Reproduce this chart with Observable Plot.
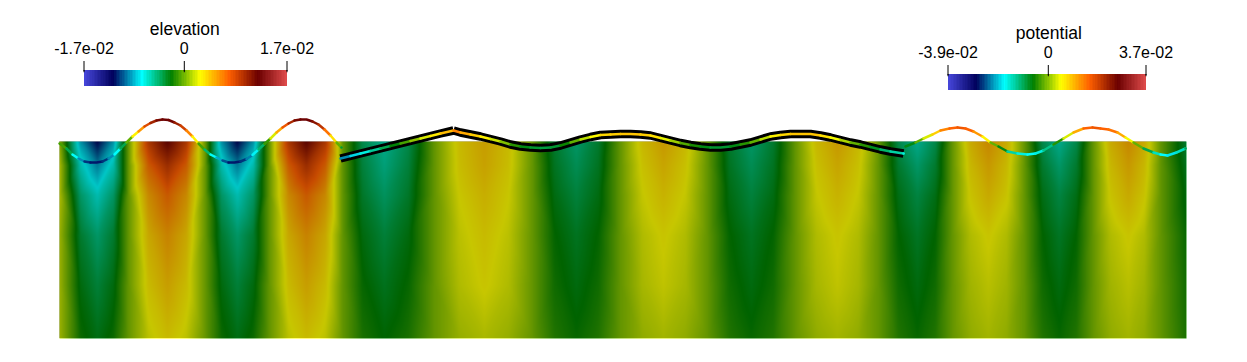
<!DOCTYPE html>
<html>
<head>
<meta charset="utf-8">
<script src="https://cdn.jsdelivr.net/npm/d3@7"></script>
<script src="https://cdn.jsdelivr.net/npm/@observablehq/plot@0.6"></script>
<style>
html,body{margin:0;padding:0;background:#fff;}
#chart{position:relative;width:1247px;height:362px;overflow:hidden;font-family:"Liberation Sans",Arial,sans-serif;}
#chart svg{position:absolute;background:transparent;}
</style>
</head>
<body>
<div id="chart"></div>
<script>
// Colour map stops (position in the map, colour)
const rampStops = [0, 0.143, 0.285, 0.429, 0.571, 0.714, 0.857, 1];
const rampColors = ["rgb(71,71,219)", "rgb(0,0,91)", "rgb(0,255,255)", "rgb(0,127,0)", "rgb(255,255,0)", "rgb(255,96,0)", "rgb(107,0,0)", "rgb(224,76,76)"];

// Legends
const elevationRange = [-0.0168, 0.0172];
const elevationTicks = [-0.0168, 0, 0.0172];
const elevationLabels = ["-1.7e-02", "0", "1.7e-02"];
const potentialRange = [-0.0385, 0.0375];
const potentialTicks = [-0.0385, 0, 0.0375];
const potentialLabels = ["-3.9e-02", "0", "3.7e-02"];
const potentialMapRange = [-0.038, 0.038];

// Potential field, in 1e-3, read at these columns and depths
const fieldX = [59,80,97,113,128,148,167,186,205,221,237,253,269,288,306,325,342,362,384,408,434,459,484,508,532,554,576,598,620,642,663,685,707,729,751,773,795,816,837,858,878,898,917,935,952,970,988,1006,1024,1042,1059,1076,1093,1110,1128,1144,1160,1186];
const fieldDepth = [0, -24, -54, -94, -144, -197];
const potentialD0 = [2,-19.4,-27,-19.4,0,19.2,26.6,19.2,0,-19.4,-27,-19.4,0,19.2,26.6,19.2,0,-9.4,-13,-9.4,0,6.6,9.1,6.6,0,-7.9,-11,-7.9,0,6.8,9.5,6.8,0,-7.9,-11,-7.9,0,6.8,9.5,6.8,0,-9.4,-13,-9.4,0,7.9,11,7.9,0,-9.4,-13,-9.4,0,7.9,11,7.9,0,-8];
const potentialD1 = [4,-14.8,-20.5,-14.8,0,14.8,20.5,14.8,0,-14.8,-20.5,-14.8,0,14.8,20.5,14.8,0,-8.6,-12,-8.6,0,6.3,8.7,6.3,0,-7.2,-10,-7.2,0,6,8.4,6,0,-7.2,-10,-7.2,0,6,8.4,6,0,-7.9,-11,-7.9,0,6.8,9.5,6.8,0,-7.9,-11,-7.9,0,6.8,9.5,6.8,0,-7];
const potentialD2 = [4,-10.8,-15,-10.8,0,10.8,15,10.8,0,-10.8,-15,-10.8,0,10.8,15,10.8,0,-7.6,-10.5,-7.6,0,5.5,7.6,5.5,0,-6.3,-8.7,-6.3,0,5.2,7.2,5.2,0,-6.3,-8.7,-6.3,0,5.2,7.2,5.2,0,-6.5,-9,-6.5,0,5.8,8,5.8,0,-6.5,-9,-6.5,0,5.8,8,5.8,0,-6];
const potentialD3 = [3,-7.9,-11,-7.9,0,8.2,11.4,8.2,0,-7.9,-11,-7.9,0,8.2,11.4,8.2,0,-6.1,-8.5,-6.1,0,4.7,6.5,4.7,0,-5.2,-7.2,-5.2,0,4.1,5.7,4.1,0,-5.2,-7.2,-5.2,0,4.1,5.7,4.1,0,-5.3,-7.4,-5.3,0,4.1,5.7,4.1,0,-5.3,-7.4,-5.3,0,4.1,5.7,4.1,0,-5];
const potentialD4 = [3,-6.1,-8.5,-6.1,0,6.5,9,6.5,0,-6.1,-8.5,-6.1,0,6.5,9,6.5,0,-5,-7,-5,0,4.1,5.7,4.1,0,-4.5,-6.2,-4.5,0,3.6,5,3.6,0,-4.5,-6.2,-4.5,0,3.6,5,3.6,0,-4.5,-6.2,-4.5,0,3.3,4.6,3.3,0,-4.5,-6.2,-4.5,0,3.3,4.6,3.3,0,-4.5];
const potentialD5 = [3,-4.7,-6.5,-4.7,0,4.7,6.5,4.7,0,-4.7,-6.5,-4.7,0,4.7,6.5,4.7,0,-4,-5.5,-4,0,2.7,3.8,2.7,0,-3.6,-5,-3.6,0,2.4,3.4,2.4,0,-3.6,-5,-3.6,0,2.4,3.4,2.4,0,-3.6,-5,-3.6,0,2.4,3.4,2.4,0,-3.6,-5,-3.6,0,2.4,3.4,2.4,0,-4];
const potentialByDepth = [potentialD0, potentialD1, potentialD2, potentialD3, potentialD4, potentialD5];

// Surface height along the three stretches
const surfaceAX = [59,66,72,78,84,90,96,102,108,114,120,126,132,138,144,150,156,162,168,174,180,186,192,198,204,210,216,222,228,234,240,246,252,258,264,270,276,282,288,294,300,306,312,318,324,330,336,341];
const surfaceAH = [-2,-7,-13,-17,-20,-21,-21,-20,-17,-13,-7,-1,5,10,15,18.5,21,22,21.5,19,16,11,5,-2,-8,-13,-16,-19,-21,-21,-20,-17.5,-13.5,-8,-2.5,3,9,14,18,21,22,22,20,17,12,6,-1,-6];
const surfaceBX = [340,350,360,370,380,390,400,410,420,430,440,453,460,470,480,490,500,510,520,530,540,550,560,570,580,590,600,610,620,630,640,650,660,670,680,690,700,710,720,730,740,750,760,770,780,790,800,810,820,830,840,850,860,870,880,890,903];
const surfaceBH = [-17,-14.5,-12,-9.5,-7,-4.5,-2,0.5,3,5.5,8,11,9,7,5,2.5,0,-3,-5,-6,-6.5,-6,-4,-1,2,4.5,6.5,7,7.5,7.5,7,6,3.5,1,-1.5,-3.5,-5,-6,-6,-5,-3,-1,2,5,6.5,7.5,7.5,7.5,6,4,1.5,-1,-3,-5.5,-8,-10,-12];
const surfaceCX = [905,915,923,932,940,949,957,965,973,982,990,998,1007,1017,1027,1035,1043,1053,1063,1073,1083,1092,1100,1108,1117,1125,1133,1143,1153,1160,1167,1176,1185];
const surfaceCH = [-5,-1,3,7,11,13,14,13,10,5,-1,-5,-10,-12,-13,-12,-9,-3,3,9,13,14,13,12,9,4,-1,-7,-11,-13,-14,-11,-7];
const outlineKinkX = 453;

// Build tables
const fieldTable = fieldDepth.flatMap((depth, j) => fieldX.map((x, i) => ({x, depth, v: potentialByDepth[j][i]})));
const toRows = (xs, hs) => xs.map((x, i) => ({x, h: hs[i]}));
const surfaceA = toRows(surfaceAX, surfaceAH);
const surfaceB = toRows(surfaceBX, surfaceBH);
const surfaceC = toRows(surfaceCX, surfaceCH);
const heightToMap = h => 0.5 + h * 0.0164;
const potentialToMap = v => (v / 1000 - potentialMapRange[0]) / (potentialMapRange[1] - potentialMapRange[0]);
const colorScale = {type: "linear", domain: rampStops, range: rampColors, clamp: true};

const surfaceLine = rows => Plot.line(rows, {x: "x", y: "h", z: null, stroke: d => heightToMap(d.h), strokeWidth: 2.5, curve: "linear", strokeLinecap: "round"});
const outlineLine = rows => Plot.line(rows, {x: "x", y: "h", stroke: "black", strokeWidth: 8.5, curve: "linear", strokeLinecap: "butt", strokeLinejoin: "round"});

const main = Plot.plot({
  width: 1247, height: 362,
  marginLeft: 59, marginRight: 61, marginTop: 0, marginBottom: 24,
  x: {domain: [fieldX[0], fieldX[fieldX.length - 1]], axis: null},
  y: {domain: [fieldDepth[fieldDepth.length - 1], 141], axis: null},
  color: colorScale,
  marks: [
    Plot.raster(fieldTable, {
      x: "x", y: "depth", fill: d => potentialToMap(d.v),
      x1: fieldX[0], x2: fieldX[fieldX.length - 1], y1: fieldDepth[fieldDepth.length - 1], y2: fieldDepth[0],
      interpolate: "barycentric", pixelSize: 1, imageRendering: "auto"
    }),
    Plot.rect([0], {x1: fieldX[0], x2: fieldX[fieldX.length - 1], y1: fieldDepth[fieldDepth.length - 1], y2: fieldDepth[0], fill: "black", fillOpacity: 0.22, shapeRendering: "crispEdges"}),
    surfaceLine(surfaceA),
    outlineLine(surfaceB.filter(d => d.x <= outlineKinkX)),
    outlineLine(surfaceB.filter(d => d.x >= outlineKinkX)),
    surfaceLine(surfaceB),
    surfaceLine(surfaceC)
  ]
});
main.style.left = "0px";
main.style.top = "0px";

function colorBar({range, ticks, labels, title, left, top, barWidth}) {
  const steps = d3.range(128);
  const [lo, hi] = range;
  const pad = 60;
  const svg = Plot.plot({
    width: barWidth + 2 * pad, height: 86,
    marginLeft: pad, marginRight: pad, marginTop: 70, marginBottom: 0,
    x: {domain: range, axis: null},
    y: {domain: [0, 1], axis: null},
    color: colorScale,
    marks: [
      Plot.rect(steps, {
        x1: i => lo + (hi - lo) * i / steps.length,
        x2: i => lo + (hi - lo) * (i + 1) / steps.length,
        y1: 0, y2: 1,
        fill: i => (i + 0.5) / steps.length,
        shapeRendering: "crispEdges"
      }),
      Plot.axisX({
        anchor: "top", ticks, tickSize: 10, tickPadding: 7, label: null,
        tickFormat: v => labels[ticks.indexOf(v)],
        fontSize: 16, color: "black", dx: -0.5
      }),
      Plot.ruleX(ticks, {x: d => d, y1: 1, y2: 0.86, stroke: "black", dx: -0.5}),
      Plot.text([title], {x: 0, frameAnchor: "top", dy: -41, fontSize: 17.5, fill: "black", textAnchor: "middle", lineAnchor: "middle"})
    ]
  });
  svg.style.left = (left - pad) + "px";
  svg.style.top = top + "px";
  svg.style.fontFamily = '"Liberation Sans", Arial, sans-serif';
  return svg;
}

const chart = document.getElementById("chart");
chart.append(main);
chart.append(colorBar({range: elevationRange, ticks: elevationTicks, labels: elevationLabels, title: "elevation", left: 84, top: 0, barWidth: 203}));
chart.append(colorBar({range: potentialRange, ticks: potentialTicks, labels: potentialLabels, title: "potential", left: 948, top: 4, barWidth: 198}));
</script>
</body>
</html>
